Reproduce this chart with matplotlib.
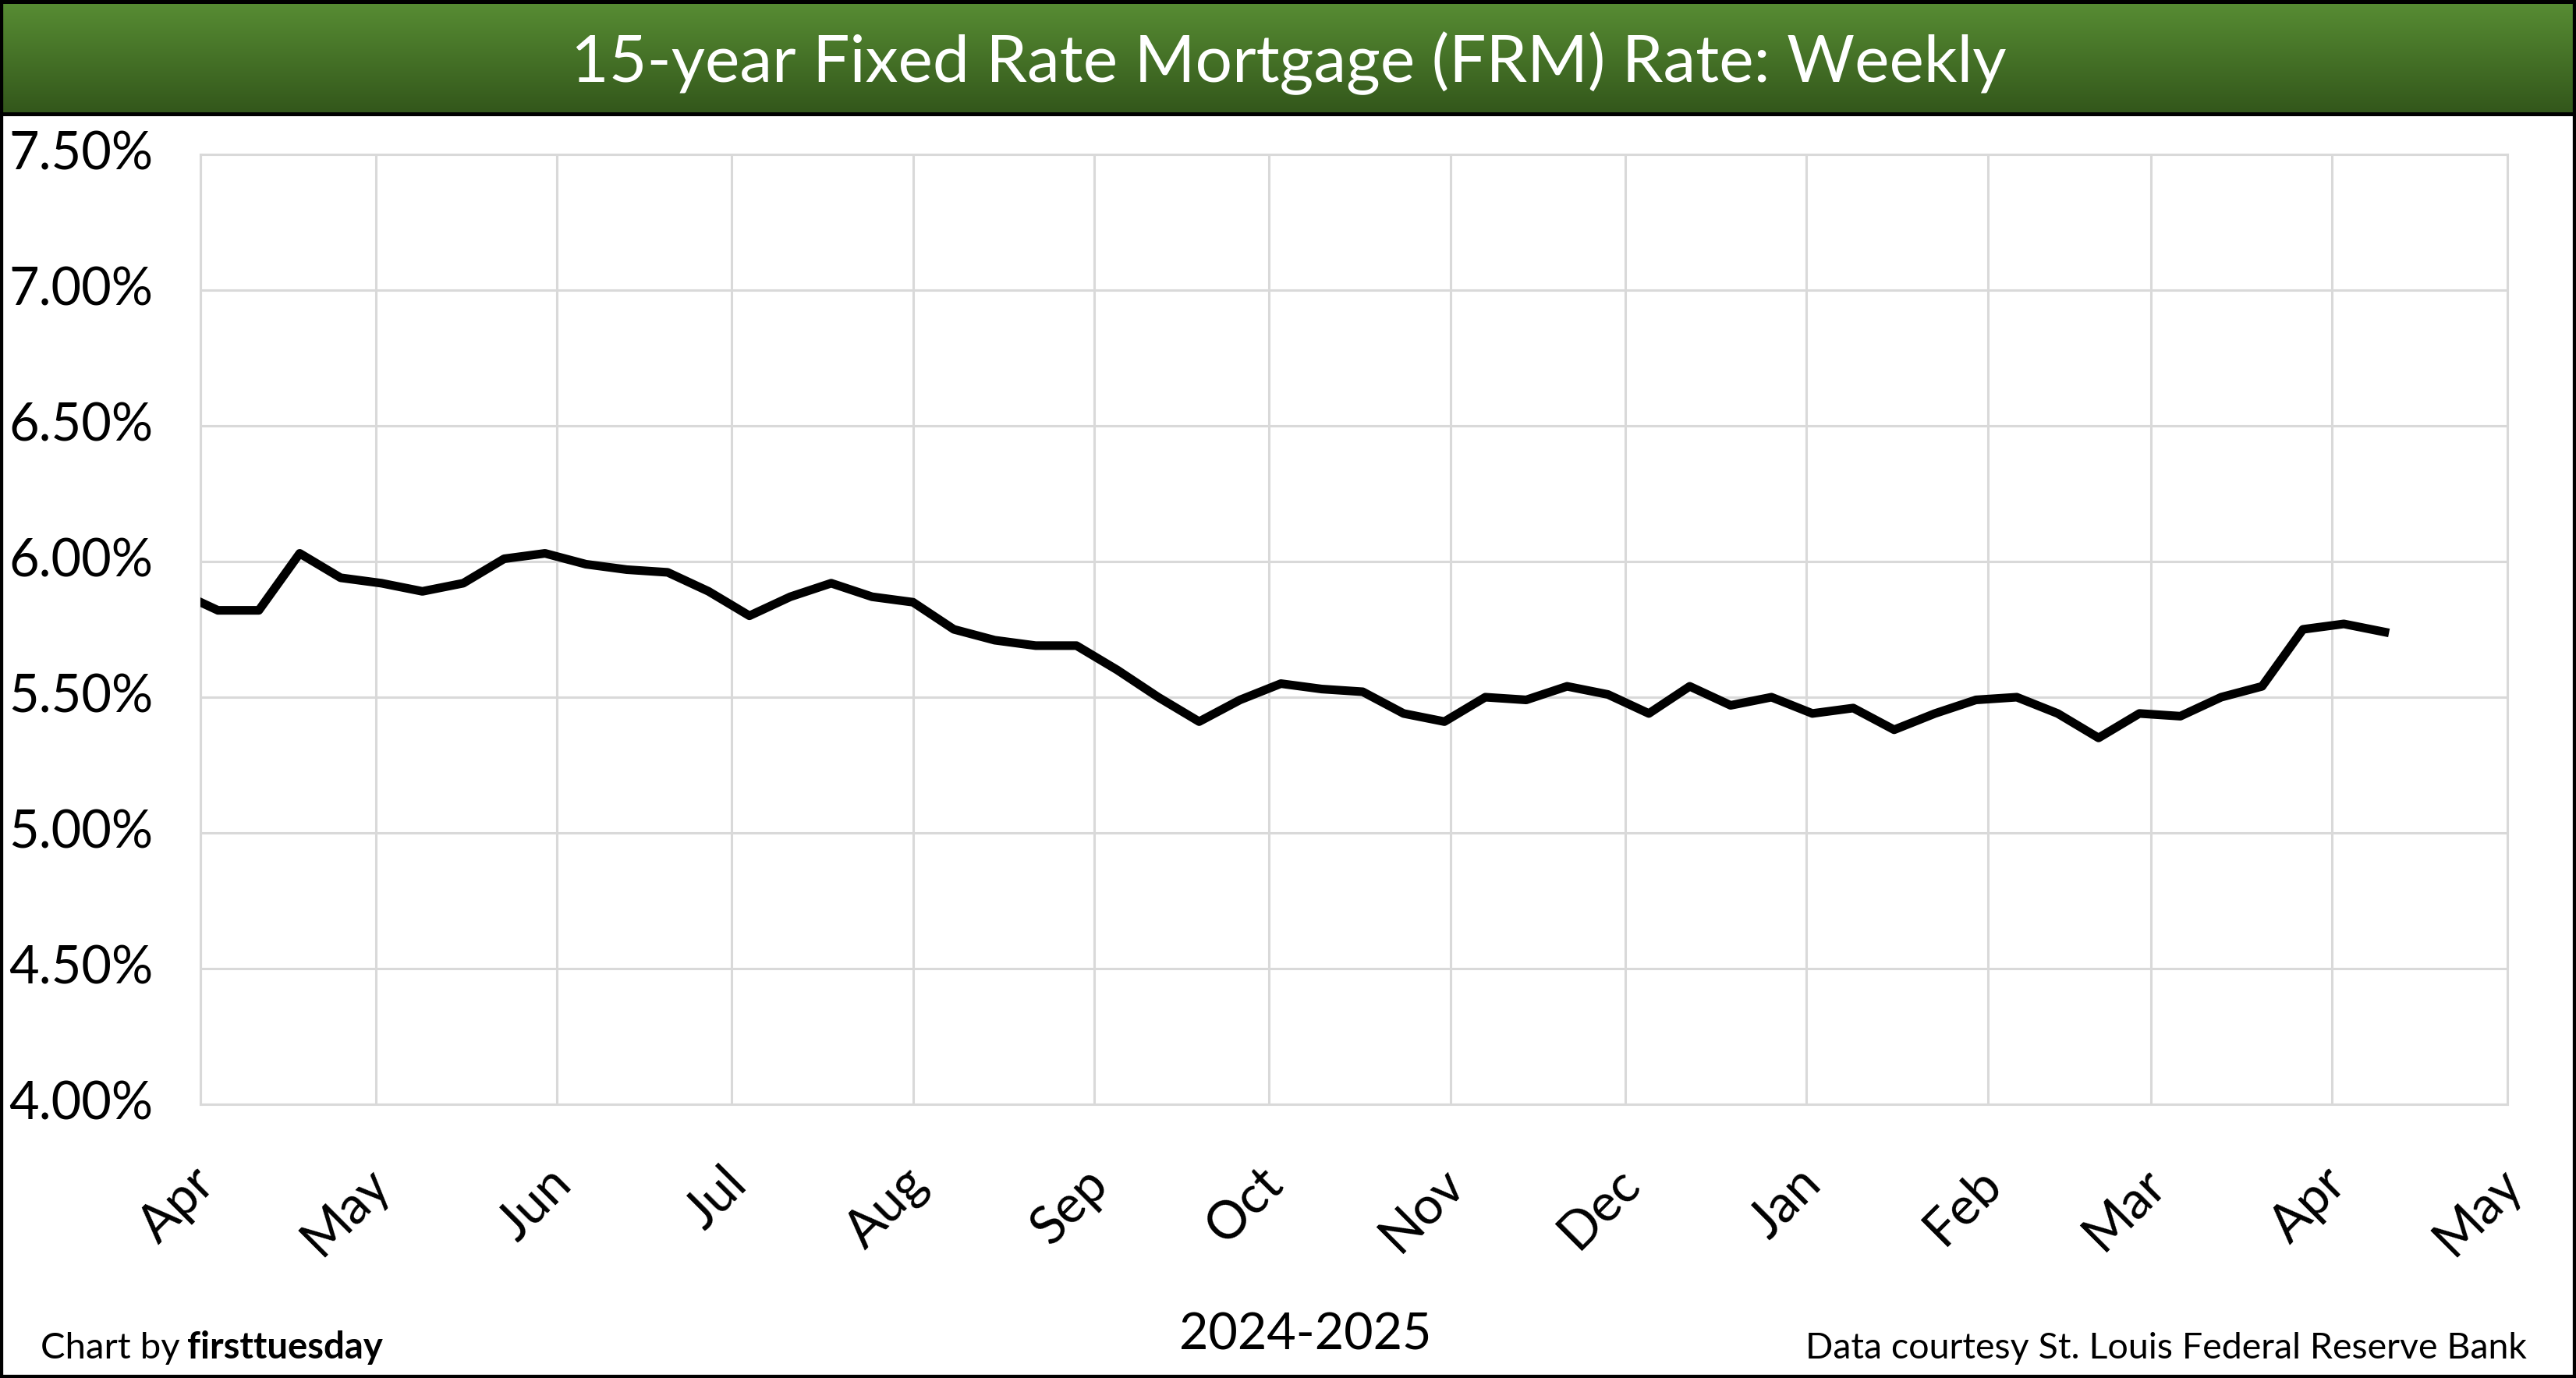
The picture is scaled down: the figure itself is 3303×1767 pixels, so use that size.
import matplotlib
matplotlib.use('Agg')
import matplotlib.pyplot as plt
import matplotlib.dates as mdates
import matplotlib.transforms as mtransforms
from matplotlib.colors import LinearSegmentedColormap
from matplotlib.patches import Rectangle
import numpy as np
import pandas as pd

# weekly 15-year FRM readings (first point sits just left of the visible range)
week_dates = [
    '2024-03-28', '2024-04-04', '2024-04-11', '2024-04-18', '2024-04-25',
    '2024-05-02', '2024-05-09', '2024-05-16', '2024-05-23', '2024-05-30',
    '2024-06-06', '2024-06-13', '2024-06-20', '2024-06-27', '2024-07-04',
    '2024-07-11', '2024-07-18', '2024-07-25', '2024-08-01', '2024-08-08',
    '2024-08-15', '2024-08-22', '2024-08-29', '2024-09-05', '2024-09-12',
    '2024-09-19', '2024-09-26', '2024-10-03', '2024-10-10', '2024-10-17',
    '2024-10-24', '2024-10-31', '2024-11-07', '2024-11-14', '2024-11-21',
    '2024-11-28', '2024-12-05', '2024-12-12', '2024-12-19', '2024-12-26',
    '2025-01-02', '2025-01-09', '2025-01-16', '2025-01-23', '2025-01-30',
    '2025-02-06', '2025-02-13', '2025-02-20', '2025-02-27', '2025-03-06',
    '2025-03-13', '2025-03-20', '2025-03-27', '2025-04-03', '2025-04-10',
]
rates = [
    5.89, 5.82, 5.82, 6.03, 5.94,
    5.92, 5.89, 5.92, 6.01, 6.03,
    5.99, 5.97, 5.96, 5.89, 5.80,
    5.87, 5.92, 5.87, 5.85, 5.75,
    5.71, 5.69, 5.69, 5.60, 5.50,
    5.41, 5.49, 5.55, 5.53, 5.52,
    5.44, 5.41, 5.50, 5.49, 5.54,
    5.51, 5.44, 5.54, 5.47, 5.50,
    5.44, 5.46, 5.38, 5.44, 5.49,
    5.50, 5.44, 5.35, 5.44, 5.43,
    5.50, 5.54, 5.75, 5.77, 5.74,
]
y_ticks = [4.0, 4.5, 5.0, 5.5, 6.0, 6.5, 7.0, 7.5]
x_start, x_end = '2024-04-01', '2025-05-01'

title_text = '15-year Fixed Rate Mortgage (FRM) Rate: Weekly'
x_label = '2024-2025'
credit_left = 'Chart by'
credit_brand = 'firsttuesday'
credit_right = 'Data courtesy St. Louis Federal Reserve Bank'

W, H, DPI = 3303, 1767, 100
plt.rcParams['font.family'] = ['Lato', 'DejaVu Sans']

fig = plt.figure(figsize=(W / DPI, H / DPI), dpi=DPI)
fig.patch.set_facecolor('white')

# title bar: black strip with a green gradient inside
fig.add_artist(Rectangle((0, 1 - 149 / H), 1, 149 / H, transform=fig.transFigure,
                         facecolor='black', edgecolor='none', zorder=1))
bar = fig.add_axes([0, 1 - 144 / H, 1, 139 / H], zorder=2)
green = LinearSegmentedColormap.from_list('green', ['#578c33', '#33571b'])
bar.imshow(np.linspace(0, 1, 256).reshape(-1, 1), cmap=green, aspect='auto',
           extent=[0, 1, 0, 1])
bar.set_axis_off()
fig.text(1652 / W, 1 - 105 / H, title_text, color='white', fontsize=60.5,
         ha='center', va='baseline', zorder=5)

# main plot
ax = fig.add_axes([257 / W, 1 - 1416 / H, (3215 - 257) / W, (1416 - 198) / H])
ax.plot(pd.to_datetime(week_dates), rates, color='black', lw=8,
        solid_joinstyle='round', zorder=3)
ax.set_xlim(pd.Timestamp(x_start), pd.Timestamp(x_end))
ax.set_ylim(y_ticks[0], y_ticks[-1])
ax.set_yticks(y_ticks)
ax.set_yticklabels([f'{v:.2f}%' for v in y_ticks])
ax.xaxis.set_major_locator(mdates.MonthLocator())
ax.xaxis.set_major_formatter(mdates.DateFormatter('%b'))
ax.grid(True, color='#d9d9d9', lw=2.2)
ax.set_axisbelow(True)
for s in ax.spines.values():
    s.set_color('#d9d9d9')
    s.set_linewidth(2.2)
ax.tick_params(length=0, labelsize=48, colors='black')
ax.tick_params(axis='y', pad=177)
ax.tick_params(axis='x', pad=66, labelrotation=45)
for lab in ax.get_yticklabels():
    lab.set_ha('left')
    lab.set_va('center')
shift = mtransforms.ScaledTranslation(8 / DPI, 0, fig.dpi_scale_trans)
for lab in ax.get_xticklabels():
    lab.set_ha('right')
    lab.set_va('center')
    lab.set_rotation_mode('anchor')
    lab.set_transform(lab.get_transform() + shift)

# footer texts
fig.text(1674 / W, 1 - 1730 / H, x_label, ha='center', va='baseline', fontsize=46.5)
t1 = fig.text(52 / W, 1 - 1742 / H, credit_left, ha='left', va='baseline', fontsize=34)
ax.annotate(credit_brand, xy=(1, 0), xycoords=t1, xytext=(7, 0),
            textcoords='offset points', ha='left', va='bottom', fontsize=34,
            fontweight='bold', annotation_clip=False)
fig.text(3240 / W, 1 - 1742 / H, credit_right, ha='right', va='baseline', fontsize=33.5)

# outer frame
fig.add_artist(Rectangle((0, 0), 1, 1, transform=fig.transFigure, fill=False,
                         edgecolor='black', lw=6, zorder=10))

fig.savefig('out.png', dpi=DPI)
